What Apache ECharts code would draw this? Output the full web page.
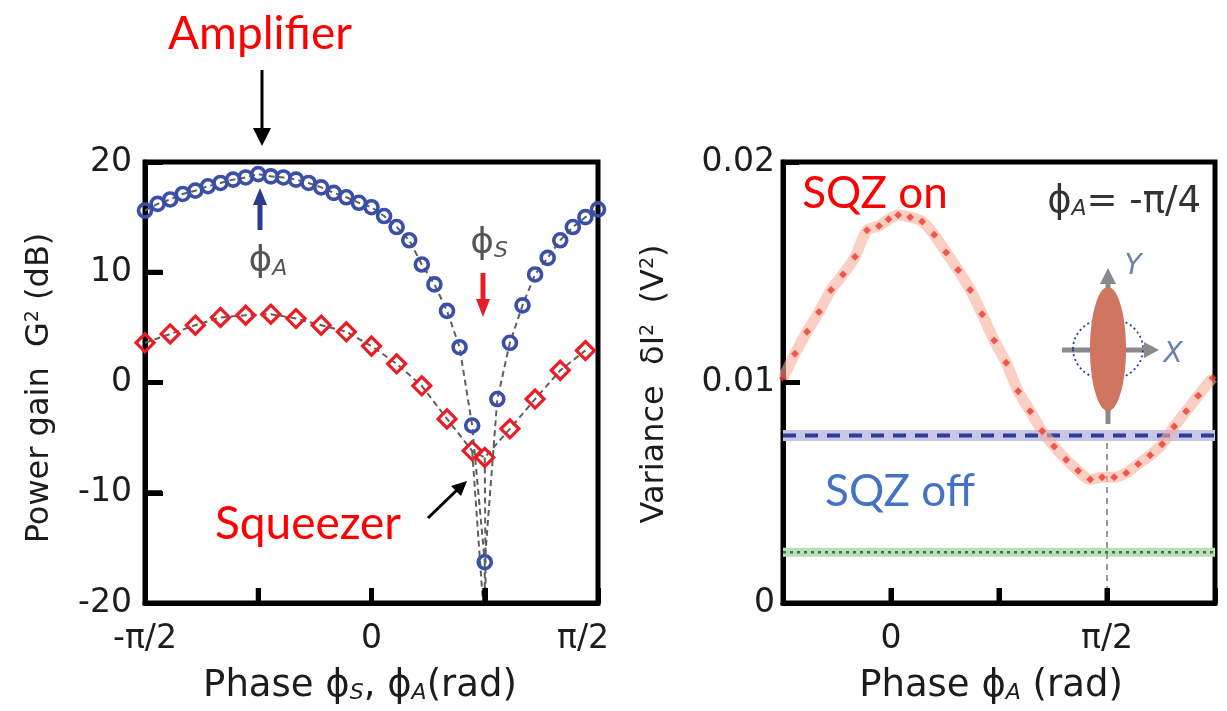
<!DOCTYPE html>
<html>
<head>
<meta charset="utf-8">
<script src="https://cdn.jsdelivr.net/npm/echarts@6/dist/echarts.min.js"></script>
<style>
html,body{margin:0;padding:0;background:#fff;}
#c{width:1227px;height:711px;}
</style>
</head>
<body>
<div id="c"></div>
<script>
// ---- Left panel: power gain (dB) vs phase (degrees) ----
const ampPhase = [-90,-85,-80,-75,-70,-65,-60,-55,-50,-45,-40,-35,-30,-25,-20,-15,-10,-5,0,5,10,15,20,25,30,35,40,45,50,55,60,65,70,75,80,85,90];
const ampGain  = [15.6,16.2,16.6,17.1,17.4,17.8,18.1,18.4,18.6,18.9,18.7,18.6,18.4,18.1,17.7,17.2,16.8,16.3,15.9,15.1,14.1,12.9,10.7,8.9,6.5,3.2,-3.9,-16.3,-1.5,3.6,7.0,9.8,11.3,12.9,14.1,15.0,15.7];
const sqzPhase = [-90,-80,-70,-60,-50,-40,-30,-20,-10,0,10,20,30,40,45,55,65,75,85];
const sqzGain  = [3.6,4.4,5.2,5.9,6.1,6.2,5.8,5.2,4.6,3.3,1.7,-0.3,-3.3,-6.2,-6.8,-4.2,-1.5,1.1,2.9];
// dashed guide lines running down into the dip
const ampDip   = [[45,-16.3],[45,-20]];
const sqzDipA  = [[40,-6.2],[44.3,-20]];
const sqzDipB  = [[45,-6.8],[45.4,-20]];
const leftTicks = {'-90':'-π/2','0':'0','90':'{r|π/2}'};
const leftXTickVals = [-45,0,45];
const leftYTickVals = [-10,0,10];

// ---- Right panel: variance (V^2) vs phase (degrees) ----
const varPhase = [-45,-40,-35,-30,-25,-20,-15,-10,-5,-1,3,8,13,18,23,28,33,38,43,48,53,58,63,68,73,78,83,88,93,98,103,108,113,118,123,128,134];
const varOn    = [0.0102,0.0113,0.0123,0.0132,0.0142,0.0149,0.0157,0.0169,0.0171,0.0174,0.0176,0.0175,0.0173,0.0167,0.0159,0.0151,0.0142,0.0131,0.0119,0.0109,0.0096,0.0087,0.0078,0.0071,0.0065,0.0060,0.0056,0.0057,0.0057,0.0059,0.0063,0.0067,0.0072,0.0080,0.0087,0.0094,0.0102];
const varOffLevel = 0.0076;
const vacuumLevel = 0.0023;
const rightRange = [-45,135];
const markPhase = 90;
const rightTicks = {'0':'0','90':'π/2'};
const rightXTickVals = [0,45,90];
const rightYTickVals = [0.01];

const zip = (a,b) => a.map((v,i) => [v,b[i]]);
const F = 'DejaVu Sans';
const TXT = '#1c1c1c';
const dashGray = {color:'#5e5e5e', width:2, type:[6,4]};

const chart = echarts.init(document.getElementById('c'), null, {renderer:'canvas'});

const tick = (len) => ({show:true, inside:true, length:len, lineStyle:{color:'#000', width:5}});
const frameLine = {show:true, onZero:false, lineStyle:{color:'#000', width:5}};

const option = {
  animation:false,
  backgroundColor:'#fff',
  grid:[
    {left:145, top:162, width:453, height:441, show:true, borderColor:'#000', borderWidth:5, backgroundColor:'transparent'},
    {left:783, top:162, width:432, height:441, show:true, borderColor:'#000', borderWidth:5, backgroundColor:'transparent'}
  ],
  xAxis:[
    {type:'value', gridIndex:0, min:-90, max:90, interval:45,
     axisLine:frameLine, splitLine:{show:false}, axisTick:tick(15),
     axisLabel:{margin:20, fontFamily:F, fontSize:33, color:TXT,
       formatter:v => leftTicks[String(v)] || '',
       rich:{r:{fontFamily:F, fontSize:33, color:TXT, padding:[0,30,0,0]}}}},
    {type:'value', gridIndex:1, min:rightRange[0], max:rightRange[1], interval:45,
     axisLine:frameLine, splitLine:{show:false}, axisTick:tick(15),
     axisLabel:{margin:20, fontFamily:F, fontSize:33, color:TXT,
       formatter:v => rightTicks[String(v)] || ''}}
  ],
  yAxis:[
    {type:'value', gridIndex:0, min:-20, max:20, interval:10,
     axisLine:frameLine, splitLine:{show:false}, axisTick:tick(18),
     axisLabel:{margin:13, fontFamily:F, fontSize:33, color:TXT}},
    {type:'value', gridIndex:1, min:0, max:0.02, interval:0.01,
     axisLine:frameLine, splitLine:{show:false}, axisTick:tick(16),
     axisLabel:{margin:8, fontFamily:F, fontSize:33, color:TXT,
       formatter:v => v === 0 ? '0' : v.toFixed(2)}}
  ],
  series:[
    // left panel guides
    {type:'line', xAxisIndex:0, yAxisIndex:0, data:sqzDipA, symbol:'none', lineStyle:dashGray, silent:true, z:1},
    {type:'line', xAxisIndex:0, yAxisIndex:0, data:sqzDipB, symbol:'none', lineStyle:dashGray, silent:true, z:1},
    {type:'line', xAxisIndex:0, yAxisIndex:0, data:ampDip, symbol:'none', lineStyle:dashGray, silent:true, z:1},
    // squeezer (red diamonds)
    {type:'line', xAxisIndex:0, yAxisIndex:0, data:zip(sqzPhase,sqzGain),
     symbol:'diamond', symbolSize:18, showAllSymbol:true,
     itemStyle:{color:'rgba(255,255,255,0)', borderColor:'#ec1c24', borderWidth:3.2},
     lineStyle:dashGray, silent:true, z:2},
    // amplifier (blue circles)
    {type:'line', xAxisIndex:0, yAxisIndex:0, data:zip(ampPhase,ampGain),
     symbol:'circle', symbolSize:13, showAllSymbol:true,
     itemStyle:{color:'rgba(255,255,255,0)', borderColor:'#3a4fa6', borderWidth:3.6},
     lineStyle:dashGray, silent:true, z:3},

    // right panel
    {type:'line', xAxisIndex:1, yAxisIndex:1, data:[[rightRange[0],vacuumLevel],[rightRange[1],vacuumLevel]],
     symbol:'none', lineStyle:{color:'#bcdcbc', width:9}, silent:true, z:1},
    {type:'line', xAxisIndex:1, yAxisIndex:1, data:[[rightRange[0],vacuumLevel],[rightRange[1],vacuumLevel]],
     symbol:'none', lineStyle:{color:'#2c7d3c', width:2.5, type:[3,4]}, silent:true, z:2},
    {type:'line', xAxisIndex:1, yAxisIndex:1, data:[[markPhase,0],[markPhase,varOffLevel]],
     symbol:'none', lineStyle:{color:'#9a9a9a', width:2, type:[6,5]}, silent:true, z:1},
    {type:'line', xAxisIndex:1, yAxisIndex:1, data:[[rightRange[0],varOffLevel],[rightRange[1],varOffLevel]],
     symbol:'none', lineStyle:{color:'#c6c6e6', width:11}, silent:true, z:1},
    {type:'line', xAxisIndex:1, yAxisIndex:1, data:[[rightRange[0],varOffLevel],[rightRange[1],varOffLevel]],
     symbol:'none', lineStyle:{color:'#2e3d98', width:4, type:[13,9]}, silent:true, z:2},
    {type:'line', xAxisIndex:1, yAxisIndex:1, data:zip(varPhase,varOn), smooth:0.3,
     symbol:'none', lineStyle:{color:'rgba(248,175,155,0.6)', width:11}, silent:true, z:3},
    {type:'scatter', xAxisIndex:1, yAxisIndex:1, data:zip(varPhase,varOn),
     symbol:'diamond', symbolSize:8, itemStyle:{color:'#ea3a2e'}, silent:true, z:4}
  ]
};
chart.setOption(option);

// ---------- annotations ----------
function txt(x,y,text,opt){
  const o = Object.assign({}, opt||{});
  const rot = o._rot || 0; delete o._rot;
  const s = Object.assign({text:text, x:0, y:0, fill:TXT, fontFamily:F, fontSize:32,
    align:'center', verticalAlign:'middle', textAlign:'center', textVerticalAlign:'middle'}, o);
  return {type:'text', x:x, y:y, rotation:rot, z:100, style:s};
}
function seg(x1,y1,x2,y2,color,w,dash){
  return {type:'line', z:100, shape:{x1,y1,x2,y2}, style:{stroke:color, lineWidth:w, lineDash:dash||null}};
}
function head(pts,color){
  return {type:'polygon', z:100, shape:{points:pts}, style:{fill:color}};
}
const LATO = 'Lato';
const sub = (size) => ({fontFamily:F, fontSize:size, fontStyle:'italic', verticalAlign:'bottom', fill:TXT, color:TXT});
const sup = (size) => ({fontFamily:F, fontSize:size, verticalAlign:'top', fill:TXT, color:TXT});

const g = [];
// inner tick marks, positioned through the chart's own scales
function addTicks(gridIndex, xVals, yVals, xMin, yMin){
  xVals.forEach(v => {
    const p = chart.convertToPixel({gridIndex:gridIndex}, [v, yMin]);
    if (p) g.push(seg(p[0], p[1], p[0], p[1]-15, '#000', 5));
  });
  yVals.forEach(v => {
    const p = chart.convertToPixel({gridIndex:gridIndex}, [xMin, v]);
    if (p) g.push(seg(p[0], p[1], p[0]+17, p[1], '#000', 5));
  });
}
addTicks(0, leftXTickVals, leftYTickVals, -90, -20);
addTicks(1, rightXTickVals, rightYTickVals, rightRange[0], 0);

// Amplifier label + arrow
g.push(txt(260,34,'Amplifier',{fontFamily:LATO, fontSize:46, fill:'#ff0000'}));
g.push(seg(262,70,262,132,'#000',3));
g.push(head([[253,128],[271,128],[262,146]],'#000'));
// Squeezer label + arrow
g.push(txt(308,524,'Squeezer',{fontFamily:LATO, fontSize:46, fill:'#ff0000'}));
g.push(seg(428,518,457,490,'#000',3));
g.push(head([[461,496],[451,486],[467,481]],'#000'));
// phi_A marker
g.push(seg(260,230,260,202,'#2b3990',5));
g.push(head([[253,205],[267,205],[260,188]],'#2b3990'));
g.push(txt(268,262,'{p|ϕ}{s|A}',{rich:{p:{fontFamily:F,fontSize:36,fill:'#555'},s:Object.assign(sub(22),{fill:'#555'})}}));
// phi_S marker
g.push(txt(489,244,'{p|ϕ}{s|S}',{rich:{p:{fontFamily:F,fontSize:36,fill:'#555'},s:Object.assign(sub(22),{fill:'#555'})}}));
g.push(seg(483,273,483,302,'#e51f28',5));
g.push(head([[476,299],[490,299],[483,317]],'#e51f28'));

// Right panel texts
g.push(txt(875,194,'SQZ on',{fontFamily:LATO, fontSize:44, fill:'#ff0000'}));
g.push(txt(900,492,'SQZ off',{fontFamily:LATO, fontSize:44, fill:'#4472c4'}));
g.push(txt(1201,202,'{p|ϕ}{s|A}{n|= -π/4}',{align:'right', textAlign:'right',
  rich:{p:{fontFamily:F,fontSize:37,fill:'#333'}, s:Object.assign(sub(22),{fill:'#333'}), n:{fontFamily:F,fontSize:37,fill:'#333'}}}));

// inset: phase-space sketch
g.push(seg(1062,350,1146,350,'#8a8a8a',5));
g.push(head([[1144,342],[1144,358],[1159,350]],'#8a8a8a'));
g.push(seg(1108,424,1108,282,'#8a8a8a',5));
g.push(head([[1100,284],[1116,284],[1108,268]],'#8a8a8a'));
g.push({type:'ellipse', z:100, shape:{cx:1108,cy:349,rx:35,ry:31}, style:{fill:null, stroke:'#2b3a9a', lineWidth:1.8, lineDash:[2,3]}});
g.push({type:'ellipse', z:101, shape:{cx:1108,cy:349,rx:18,ry:62}, style:{fill:'#d0755f'}});
g.push(txt(1173,355,'X',{fontSize:28, fontStyle:'italic', fill:'#6d83ae'}));
g.push(txt(1133,267,'Y',{fontSize:28, fontStyle:'italic', fill:'#6d83ae'}));

// axis names
g.push(txt(360,686,'Phase ϕ{s|S}, ϕ{s|A}(rad)',{fontSize:37, rich:{s:sub(22)}}));
g.push(txt(991,686,'Phase ϕ{s|A} (rad)',{fontSize:37, rich:{s:sub(22)}}));
g.push(txt(40,388,'Power gain  G{u|2} (dB)',{fontSize:32, _rot:Math.PI/2, rich:{u:sup(19)}}));
g.push(txt(655,384,'Variance  δI{u|2}  (V{u|2})',{fontSize:32, _rot:Math.PI/2, rich:{u:sup(19)}}));

chart.setOption({graphic:{elements:g}});
</script>
</body>
</html>
